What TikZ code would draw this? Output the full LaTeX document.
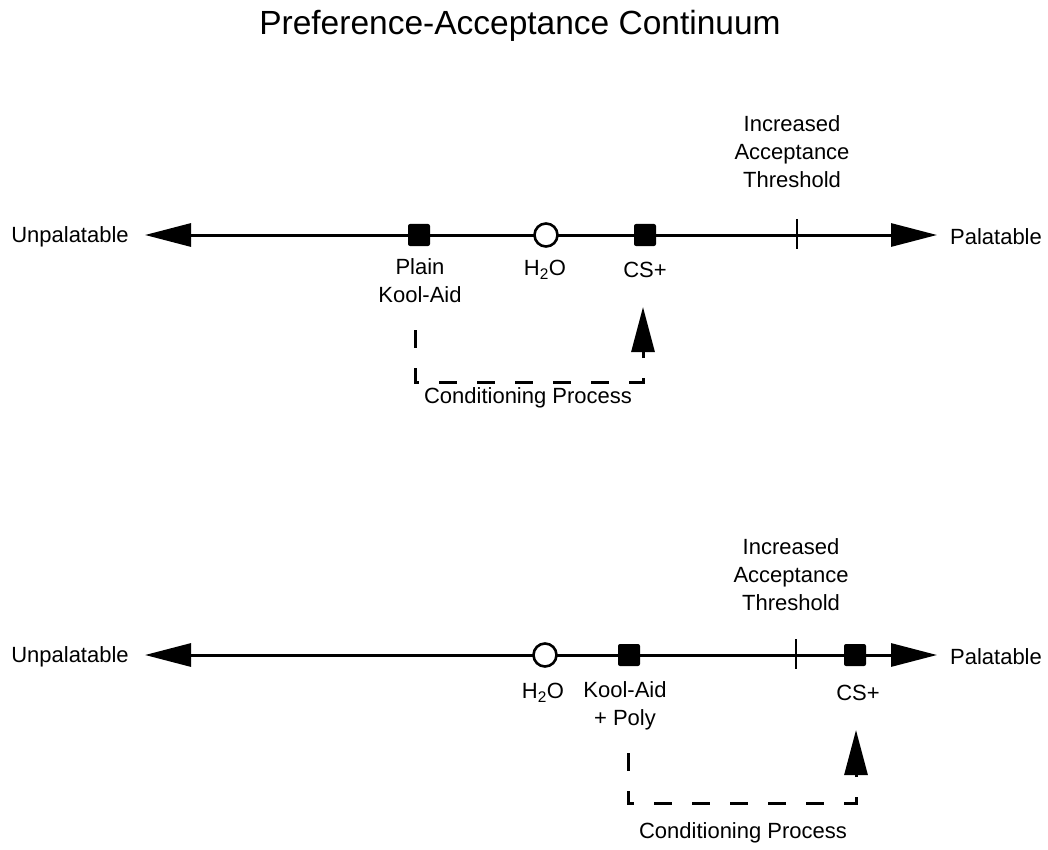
\documentclass[tikz,border=0pt]{standalone}
\usepackage{fontspec}
\setmainfont{Liberation Sans}
\usetikzlibrary{arrows.meta}
\begin{document}
\begin{tikzpicture}[x=1pt,y=-1pt,
  lbl/.style={inner sep=0pt,align=center,font=\fontsize{22}{28}\selectfont},
  ttl/.style={inner sep=0pt,anchor=base,font=\fontsize{33.5}{40}\selectfont},
  axisline/.style={line width=3pt,{Triangle[length=46pt,width=23pt]}-{Triangle[length=46pt,width=23pt]}},
  marksq/.style={fill=black,draw=none,minimum size=22pt,inner sep=0pt,rounded corners=2pt},
  markci/.style={circle,fill=white,draw=black,line width=2.6pt,minimum size=23pt,inner sep=0pt},
  tickln/.style={line width=2.4pt},
  condpath/.style={line width=3pt,dash pattern=on 18pt off 20pt,-{Triangle[length=45pt,width=23pt]}}
]
\useasboundingbox (0,0) rectangle (1048,850);
\fill[white] (0,0) rectangle (1048,850);

\node[ttl] (title) at (520,35) {Preference-Acceptance Continuum};

% ---------- top panel ----------
\coordinate (aL) at (145,235);
\coordinate (aR) at (937,235);
\draw[axisline] (aL) -- (aR);
\node[lbl] (unp1) at (70,237) {Unpalatable};
\node[lbl] (pal1) at (996,237) {Palatable};
\coordinate (tT1) at (797,219);
\coordinate (tB1) at (797,249);
\draw[tickln] (tT1) -- (tB1);
\node[lbl] (thr1) at (792,152) {Increased\\Acceptance\\Threshold};
\node[marksq] (pk) at (419,235) {};
\node[markci] (w1) at (546,235) {};
\node[marksq] (cs1) at (645,235) {};
\node[lbl,anchor=north] (pkl) at (420,258) {Plain\\Kool-Aid};
\node[lbl] (w1l) at (545,270) {H\textsubscript{2}O};
\node[lbl] (cs1l) at (645,270) {CS+};
\coordinate (c1s) at (415,330);
\coordinate (c1e) at (643,307);
\draw[condpath] (c1s) |- (643,382) -- (c1e);
\node[lbl] (cp1) at (528,398) {Conditioning Process};

% ---------- bottom panel ----------
\coordinate (bL) at (145,655);
\coordinate (bR) at (937,655);
\draw[axisline] (bL) -- (bR);
\node[lbl] (unp2) at (70,657) {Unpalatable};
\node[lbl] (pal2) at (996,657) {Palatable};
\coordinate (tT2) at (796,639);
\coordinate (tB2) at (796,669);
\draw[tickln] (tT2) -- (tB2);
\node[lbl] (thr2) at (791,575) {Increased\\Acceptance\\Threshold};
\node[markci] (w2) at (545,655) {};
\node[marksq] (kp) at (629,655) {};
\node[marksq] (cs2) at (855,655) {};
\node[lbl] (w2l) at (543,693) {H\textsubscript{2}O};
\node[lbl,anchor=north] (kpl) at (625,681) {Kool-Aid\\+ Poly};
\node[lbl] (cs2l) at (858,693) {CS+};
\coordinate (c2s) at (628,753);
\coordinate (c2e) at (856,730);
\draw[condpath] (c2s) |- (856,803) -- (c2e);
\node[lbl] (cp2) at (743,833) {Conditioning Process};
\end{tikzpicture}
\end{document}
